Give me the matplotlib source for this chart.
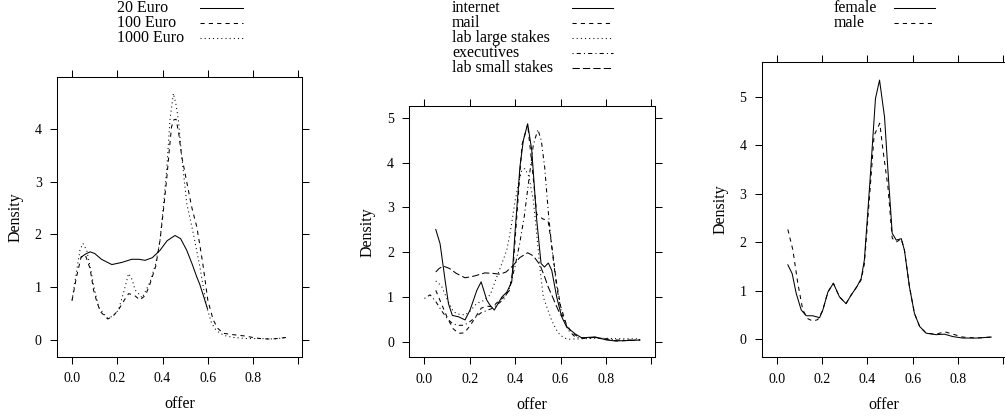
import matplotlib
matplotlib.use('Agg')
import matplotlib.pyplot as plt
from matplotlib.lines import Line2D

plt.rcParams['font.family'] = ['Liberation Serif', 'DejaVu Serif']
plt.rcParams['font.size'] = 11.5
plt.rcParams['axes.linewidth'] = 0.75

# ---- panel 1: stakes ----
euro20_x = [0.04, 0.06, 0.08, 0.10, 0.13, 0.176, 0.22, 0.264, 0.295, 0.323, 0.355, 0.389, 0.42, 0.455,
            0.48, 0.507, 0.53, 0.551, 0.565, 0.58, 0.599]
euro20_y = [1.57, 1.63, 1.67, 1.64, 1.53, 1.43, 1.47, 1.53, 1.53, 1.51, 1.56, 1.70, 1.88, 1.98,
            1.92, 1.70, 1.45, 1.20, 1.05, 0.85, 0.59]
euro100_x = [0.0, 0.02, 0.04, 0.059, 0.08, 0.095, 0.11, 0.125, 0.158, 0.18, 0.205, 0.23, 0.25, 0.275,
             0.30, 0.325, 0.345, 0.37, 0.389, 0.405, 0.418, 0.43, 0.44, 0.45, 0.46, 0.472, 0.485, 0.5,
             0.514, 0.53, 0.551, 0.565, 0.58, 0.60, 0.624, 0.645, 0.668, 0.70, 0.727, 0.76, 0.786, 0.83,
             0.874, 0.91, 0.947]
euro100_y = [0.75, 1.2, 1.57, 1.61, 1.35, 0.95, 0.72, 0.54, 0.40, 0.45, 0.57, 0.75, 0.88, 0.85,
             0.76, 0.85, 1.07, 1.4, 1.89, 2.5, 3.03, 3.6, 4.04, 4.17, 4.18, 3.9, 3.47, 3.15,
             2.84, 2.5, 2.15, 1.8, 1.39, 0.76, 0.38, 0.22, 0.13, 0.11, 0.095, 0.08, 0.06, 0.03,
             0.02, 0.03, 0.05]
euro1000_x = [0.0, 0.02, 0.035, 0.048, 0.065, 0.08, 0.10, 0.118, 0.155, 0.18, 0.205, 0.228, 0.25, 0.265,
              0.279, 0.31, 0.345, 0.37, 0.389, 0.405, 0.418, 0.433, 0.448, 0.46, 0.47, 0.485, 0.507,
              0.536, 0.565, 0.595, 0.617, 0.635, 0.653, 0.68, 0.712, 0.77, 0.83, 0.874, 0.91, 0.947]
euro1000_y = [0.75, 1.3, 1.7, 1.83, 1.7, 1.39, 0.95, 0.62, 0.42, 0.45, 0.57, 0.9, 1.26, 1.15,
              0.95, 0.80, 1.10, 1.45, 1.89, 2.6, 3.2, 4.17, 4.67, 4.45, 4.17, 3.47, 2.59,
              2.02, 1.39, 0.63, 0.32, 0.2, 0.13, 0.08, 0.05, 0.03, 0.03, 0.02, 0.03, 0.05]

# ---- panel 2: subject pools ----
internet_x = [0.05, 0.069, 0.091, 0.106, 0.123, 0.15, 0.179, 0.201, 0.231, 0.25, 0.275, 0.289, 0.308,
              0.341, 0.363, 0.385, 0.399, 0.421, 0.436, 0.455, 0.473, 0.495, 0.514, 0.529, 0.546,
              0.561, 0.583, 0.605, 0.627, 0.664, 0.693, 0.752, 0.796, 0.84, 0.95]
internet_y = [2.51, 2.19, 1.38, 0.85, 0.59, 0.56, 0.49, 0.71, 1.15, 1.34, 0.93, 0.82, 0.71,
              1.0, 1.11, 1.34, 2.42, 3.91, 4.5, 4.87, 4.28, 2.72, 1.75, 1.67, 1.76,
              1.6, 1.0, 0.56, 0.33, 0.18, 0.09, 0.11, 0.05, 0.02, 0.04]
mail_x = [0.05, 0.075, 0.1, 0.125, 0.15, 0.175, 0.2, 0.225, 0.25, 0.275, 0.3, 0.325, 0.35, 0.375,
          0.39, 0.41, 0.43, 0.455, 0.475, 0.495, 0.52, 0.545, 0.56, 0.58, 0.6, 0.625, 0.65, 0.675,
          0.7, 0.75, 0.8, 0.85, 0.9, 0.95]
mail_y = [1.15, 0.85, 0.55, 0.3, 0.19, 0.2, 0.35, 0.55, 0.75, 0.8, 0.78, 0.9, 1.0, 1.15,
          1.6, 3.0, 4.4, 4.85, 3.9, 2.85, 2.75, 2.7, 2.2, 1.4, 0.8, 0.4, 0.2, 0.12,
          0.08, 0.1, 0.05, 0.02, 0.03, 0.04]
large_x = [0.05, 0.075, 0.1, 0.128, 0.15, 0.179, 0.2, 0.231, 0.26, 0.29, 0.319, 0.345, 0.363, 0.38,
           0.4, 0.415, 0.429, 0.443, 0.46, 0.48, 0.495, 0.51, 0.524, 0.545, 0.561, 0.58, 0.598,
           0.62, 0.64, 0.7, 0.75, 0.8, 0.85, 0.9, 0.94]
large_y = [1.36, 1.25, 0.95, 0.67, 0.62, 0.6, 0.68, 0.86, 0.92, 1.05, 1.45, 1.8, 2.05, 2.5,
           3.16, 3.55, 3.83, 3.87, 3.7, 3.16, 2.4, 1.6, 1.0, 0.7, 0.48, 0.28, 0.15,
           0.08, 0.06, 0.07, 0.08, 0.08, 0.07, 0.07, 0.07]
exec_x = [0.0, 0.025, 0.05, 0.075, 0.1, 0.125, 0.15, 0.175, 0.2, 0.225, 0.25, 0.275, 0.3, 0.325,
          0.35, 0.375, 0.4, 0.42, 0.44, 0.46, 0.48, 0.5, 0.515, 0.53, 0.546, 0.561, 0.583, 0.605,
          0.634, 0.664, 0.7, 0.75, 0.8, 0.85, 0.9, 0.95]
exec_y = [0.97, 1.05, 0.9, 0.7, 0.52, 0.4, 0.37, 0.37, 0.45, 0.55, 0.65, 0.7, 0.75, 0.85,
          0.95, 1.2, 1.7, 2.2, 2.8, 3.6, 4.4, 4.74, 4.5, 3.9, 2.9, 2.12, 1.23, 0.63,
          0.26, 0.11, 0.08, 0.1, 0.07, 0.04, 0.04, 0.05]
small_x = [0.05, 0.065, 0.084, 0.11, 0.14, 0.179, 0.22, 0.267, 0.3, 0.333, 0.36, 0.39, 0.42, 0.455,
           0.48, 0.509, 0.53, 0.546, 0.565, 0.58, 0.6]
small_y = [1.56, 1.64, 1.69, 1.64, 1.53, 1.43, 1.47, 1.54, 1.53, 1.51, 1.56, 1.70, 1.88, 1.99,
           1.92, 1.72, 1.45, 1.22, 1.0, 0.82, 0.59]

# ---- panel 3: gender ----
female_x = [0.049, 0.068, 0.086, 0.108, 0.13, 0.159, 0.189, 0.203, 0.226, 0.25, 0.277, 0.306, 0.329,
            0.354, 0.373, 0.387, 0.41, 0.436, 0.454, 0.476, 0.491, 0.51, 0.528, 0.55, 0.564, 0.586,
            0.608, 0.631, 0.66, 0.704, 0.741, 0.778, 0.822, 0.881, 0.947]
female_y = [1.53, 1.35, 0.94, 0.60, 0.48, 0.48, 0.44, 0.59, 0.97, 1.15, 0.87, 0.73, 0.91,
            1.08, 1.25, 1.63, 3.14, 4.96, 5.34, 4.58, 3.48, 2.18, 2.04, 2.07, 1.83, 1.08,
            0.53, 0.26, 0.12, 0.09, 0.10, 0.05, 0.02, 0.02, 0.04]
male_x = [0.049, 0.071, 0.093, 0.115, 0.137, 0.159, 0.181, 0.203, 0.226, 0.25, 0.277, 0.306, 0.329,
          0.354, 0.373, 0.387, 0.41, 0.43, 0.455, 0.469, 0.491, 0.51, 0.528, 0.55, 0.564, 0.586,
          0.608, 0.631, 0.66, 0.704, 0.741, 0.778, 0.822, 0.881, 0.947]
male_y = [2.26, 1.84, 1.15, 0.60, 0.42, 0.37, 0.40, 0.59, 0.97, 1.15, 0.87, 0.73, 0.91,
          1.08, 1.22, 1.55, 2.95, 4.2, 4.45, 3.9, 3.14, 2.08, 2.0, 2.07, 1.83, 1.08,
          0.53, 0.26, 0.12, 0.1, 0.15, 0.1, 0.04, 0.02, 0.04]

# R lty 1..5
LTY = ['-', (0, (4, 4)), (0, (1, 3)), (0, (1, 3, 4, 3)), (0, (7, 3))]
LW = 0.75

panels = [
    dict(rect=[0.0567, 0.1418, 0.2438, 0.6731], ylim=(-0.32, 4.98), yticks=[0, 1, 2, 3, 4],
         series=[('20 Euro', euro20_x, euro20_y), ('100 Euro', euro100_x, euro100_y),
                 ('1000 Euro', euro1000_x, euro1000_y)],
         legend=(117, 200, 243)),
    dict(rect=[0.4073, 0.1411, 0.2445, 0.6034], ylim=(-0.345, 5.26), yticks=[0, 1, 2, 3, 4, 5],
         series=[('internet', internet_x, internet_y), ('mail', mail_x, mail_y),
                 ('lab large stakes', large_x, large_y), ('executives', exec_x, exec_y),
                 ('lab small stakes', small_x, small_y)],
         legend=(452, 572, 613)),
    dict(rect=[0.7579, 0.1411, 0.2440, 0.7106], ylim=(-0.377, 5.72), yticks=[0, 1, 2, 3, 4, 5],
         series=[('female', female_x, female_y), ('male', male_x, male_y)],
         legend=(834, 894, 935)),
]

W, H = 1005, 416
fig = plt.figure(figsize=(W / 100, H / 100), dpi=100)

for p in panels:
    ax = fig.add_axes(p['rect'])
    for i, (name, xs, ys) in enumerate(p['series']):
        ax.plot(xs, ys, color='black', lw=LW, linestyle=LTY[i])
    ax.set_xlim(-0.0665, 1.0165)
    ax.set_ylim(*p['ylim'])
    ax.set_xticks([0.0, 0.2, 0.4, 0.6, 0.8, 1.0])
    ax.set_xticklabels(['0.0', '0.2', '0.4', '0.6', '0.8', ''])
    ax.set_yticks(p['yticks'])
    ax.tick_params(direction='out', length=5, width=0.75, top=True, right=True,
                   labelsize=10, pad=6, colors='black')
    ax.set_xlabel('offer', labelpad=8)
    ax.set_ylabel('Density', labelpad=8)

    # lattice-style key above the panel: text left, line sample right
    tx, lx0, lx1 = p['legend']
    for i, (name, xs, ys) in enumerate(p['series']):
        yrow = 8.5 + 14.9 * i
        fig.text(tx / W, 1 - yrow / H, name, ha='left', va='center', fontsize=11.5)
        fig.add_artist(Line2D([lx0 / W, lx1 / W], [1 - (yrow - 0.5) / H] * 2,
                              transform=fig.transFigure, color='black', lw=LW,
                              linestyle=LTY[i]))

fig.savefig('out.png', dpi=100)
